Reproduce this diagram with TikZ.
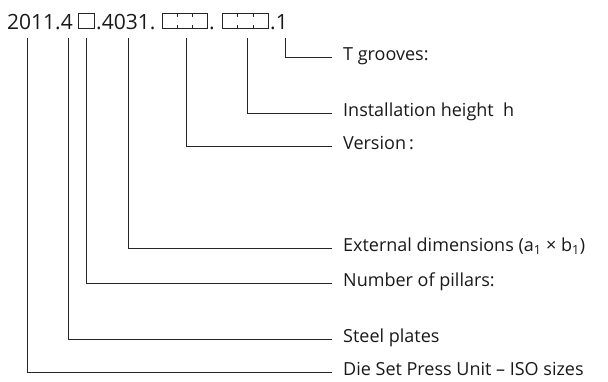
\documentclass[tikz,border=0pt]{standalone}
\usepackage{fontspec}
\setmainfont{Open Sans}
\usetikzlibrary{positioning,calc}

\begin{document}
\begin{tikzpicture}[
    x=1pt, y=-1pt,
    lead/.style={draw=black!85, line width=0.9pt},
    code/.style={font=\fontsize{21}{24}\selectfont, inner sep=0pt, anchor=base west, text=black!90},
    slot/.style={draw=black!85, line width=0.9pt, inner sep=0pt, minimum height=15pt, anchor=south west},
    lbl/.style={font=\fontsize{18}{21}\selectfont, anchor=west, inner xsep=11pt, inner ysep=0pt,
                text height=1.5ex, text depth=.3ex, text=black!90}
  ]
  \useasboundingbox (0,0) rectangle (608,381);
  % type code
  \node[code] (base) at (7,29) {2011.4};
  \node[slot, minimum width=16pt] (plates) at (78,29) {};
  \node[code] (size) at (96,29) {.4031.};
  \node[slot, minimum width=45pt] (ver) at (162,29) {};
  \node[code] (dot) at (209,29) {.};
  \node[slot, minimum width=46pt] (hgt) at (222,29) {};
  \node[code] (groove) at (270,29) {.1};
  \foreach \s in {ver,hgt}
    \foreach \f in {0.333,0.667} {
      \draw[lead] ($(\s.north west)!\f!(\s.north east)$) -- ++(0,4);
      \draw[lead] ($(\s.south west)!\f!(\s.south east)$) -- ++(0,-4);
    }

  % descriptions
  \node[lbl] (tgroove) at (332,57) {T grooves:};
  \node[lbl] (inst) at (332,113) {Installation height\ \ h};
  \node[lbl] (version) at (332,146) {Version\,:};
  \node[lbl] (extdim) at (332,248) {External dimensions (a\textsubscript{1} × b\textsubscript{1})};
  \node[lbl] (pillars) at (332,283) {Number of pillars:};
  \node[lbl] (steel) at (332,339) {Steel plates};
  \node[lbl] (unit) at (332,372) {Die Set Press Unit – ISO sizes};

  % leader lines
  \coordinate (l1) at (27,38);
  \coordinate (l2) at (68,38);
  \coordinate (l3) at (86,38);
  \coordinate (l4) at (128,38);
  \coordinate (l5) at (186,38);
  \coordinate (l6) at (247,38);
  \coordinate (l7) at (285,38);
  \draw[lead] (l7) |- (tgroove.west);
  \draw[lead] (l6) |- (inst.west);
  \draw[lead] (l5) |- (version.west);
  \draw[lead] (l4) |- (extdim.west);
  \draw[lead] (l3) |- (pillars.west);
  \draw[lead] (l2) |- (steel.west);
  \draw[lead] (l1) |- (unit.west);
\end{tikzpicture}
\end{document}
